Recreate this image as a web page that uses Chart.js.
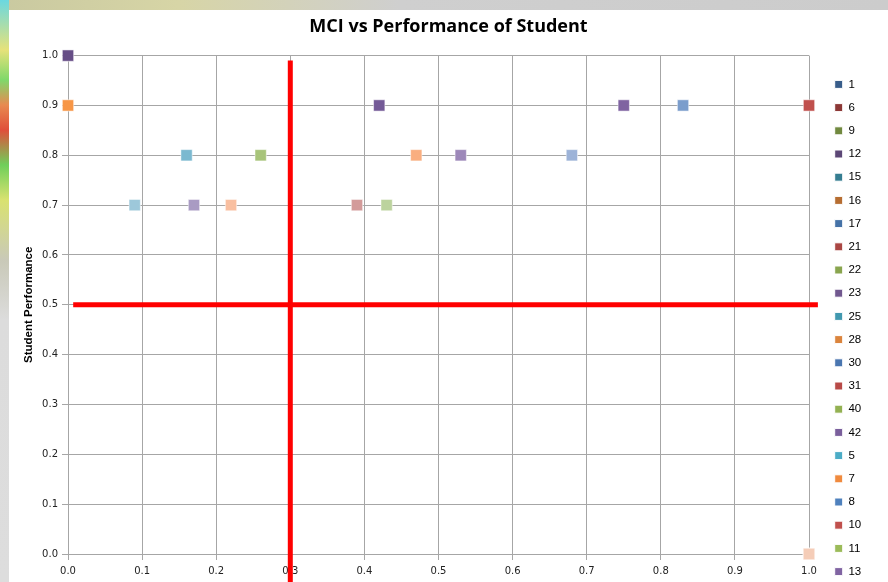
<!DOCTYPE html>
<html>
<head>
<meta charset="utf-8">
<script src="https://cdn.jsdelivr.net/npm/chart.js@4.4.0/dist/chart.umd.min.js"></script>
<style>
  html, body { margin: 0; padding: 0; }
  body {
    width: 888px; height: 582px; overflow: hidden; position: relative;
    background: linear-gradient(90deg, #c9c9a0 0%, #d7d5a6 20%, #cfcfcf 45%, #cccccc 100%);
  }
  #strip {
    position: absolute; left: 0; top: 0; width: 9px; height: 582px;
    background: linear-gradient(180deg, #6ad8e0 0px, #e6e27a 50px, #7fd86a 80px, #e88a50 105px,
      #e04f3a 130px, #6fcf5a 165px, #d9e270 200px, #c9c9b8 260px, #dcdcdc 320px, #dddddd 582px);
  }
  #box {
    position: absolute; left: 9px; top: 10px; width: 879px; height: 572px; background: #fff;
  }
</style>
</head>
<body>
<div id="strip"></div>
<div id="box"><canvas id="chart" width="879" height="572"></canvas></div>
<script>
// series as listed in the legend
const seriesNames = ['1','6','9','12','15','16','17','21','22','23','25','28','30','31','40','42','5','7','8','10','11','13'];
const mciValues   = [0.83, 1.0, 0.26, 0.0, 0.16, 0.0, 0.68, 0.39, 0.43, 0.42, 0.09, 0.47, 0.53, 1.0, 1.0, 0.75, 1.0, 0.22, 1.0, 1.0, 1.0, 0.17];
const perfValues  = [0.9, 0.9, 0.8, 1.0, 0.8, 0.9, 0.8, 0.7, 0.7, 0.9, 0.7, 0.8, 0.8, 0.0, 0.0, 0.9, 0.0, 0.7, 0.0, 0.0, 0.0, 0.7];
const pointColors = ['#7b9dcc','#c0504d','#a8c47a','#664d86','#7bb9d0','#f79646','#9db3d8','#d39b9a','#bcd39e','#745a97',
                     '#9dc8da','#f9ae80','#9d88b9','#f5cdb8','#f5cdb8','#7f63a1','#f5cdb8','#f9bfa0','#f5cdb8','#f5cdb8','#f5cdb8','#a99bc3'];
const legendColors = ['#385d8a','#8c3836','#71893f','#5c4776','#357d91','#b66d31','#4572a7','#aa4643','#89a54e','#71588f',
                      '#4198af','#db843d','#4a76b0','#b84a47','#93b152','#7a5f9c','#4bacc6','#f08a3e','#4f81bd','#c0504d','#9bbb59','#8064a2'];
const tickLabels = ['0.0','0.1','0.2','0.3','0.4','0.5','0.6','0.7','0.8','0.9','1.0'];

// the two red quadrant lines
const cutX = 0.3, cutY = 0.5;
const vLine = [{x: cutX, y: 0.99}, {x: cutX, y: -0.06}];
const hLine = [{x: 0.007, y: cutY}, {x: 1.012, y: cutY}];

const datasets = seriesNames.map((name, i) => ({
  label: name,
  data: [{x: mciValues[i], y: perfValues[i]}],
  pointStyle: 'rect',
  pointRadius: 8,
  pointHoverRadius: 8,
  backgroundColor: pointColors[i],
  borderColor: 'rgba(255,255,255,0.5)',
  borderWidth: 1,
  clip: false
}));
[vLine, hLine].forEach(line => datasets.push({
  label: '',
  data: line,
  showLine: true,
  borderColor: '#ff0000',
  borderWidth: 5,
  pointRadius: 0,
  clip: false
}));

// legend takes a fixed strip on the right, items pushed a bit right/down like the excel one
const legendBox = {
  id: 'legendBox',
  beforeLayout(chart) {
    const lg = chart.legend;
    if (lg && !lg._fixed) {
      const fit = lg.fit;
      lg.fit = function () { fit.call(this); this.width = 79; };
      lg._fixed = true;
    }
  },
  afterLayout(chart) {
    const lg = chart.legend;
    lg.left += 14; lg.right += 14;
    lg.top += 32; lg.bottom += 32;
  }
};

const gridColor = '#a6a6a6';
const tickFont = { family: 'DejaVu Sans', size: 10 };

new Chart(document.getElementById('chart'), {
  type: 'scatter',
  data: { datasets },
  plugins: [legendBox],
  options: {
    responsive: false,
    animation: false,
    layout: { padding: 0 },
    plugins: {
      title: {
        display: true,
        text: 'MCI vs Performance of Student',
        color: '#000',
        font: { family: 'Open Sans', size: 18, weight: 'bold' },
        padding: { top: 6, bottom: 18 }
      },
      legend: {
        position: 'right',
        labels: {
          boxWidth: 8,
          boxHeight: 8,
          padding: 11.7,
          color: '#222',
          font: { family: 'Liberation Sans', size: 11.5 },
          generateLabels: chart => seriesNames.map((name, i) => ({
            text: name,
            fillStyle: legendColors[i],
            strokeStyle: '#ffffff',
            lineWidth: 1,
            hidden: false,
            datasetIndex: i
          }))
        }
      },
      tooltip: { enabled: false }
    },
    scales: {
      x: {
        type: 'linear',
        min: 0, max: 1,
        ticks: {
          stepSize: 0.1,
          color: '#222',
          font: tickFont,
          maxRotation: 0,
          padding: 5,
          callback: (v, i) => tickLabels[i]
        },
        grid: { color: gridColor, tickLength: 6 },
        border: { color: gridColor },
        afterFit: s => { s.height = 28; }
      },
      y: {
        type: 'linear',
        min: 0, max: 1,
        ticks: {
          stepSize: 0.1,
          color: '#222',
          font: tickFont,
          padding: 4,
          callback: (v, i) => tickLabels[i]
        },
        grid: { color: gridColor, tickLength: 6 },
        border: { color: gridColor },
        title: {
          display: true,
          text: 'Student Performance',
          color: '#000',
          font: { family: 'Liberation Sans', size: 11.5, weight: 'bold' },
          padding: { top: 13 }
        },
        afterFit: s => { s.width = 59; }
      }
    }
  }
});
</script>
</body>
</html>
